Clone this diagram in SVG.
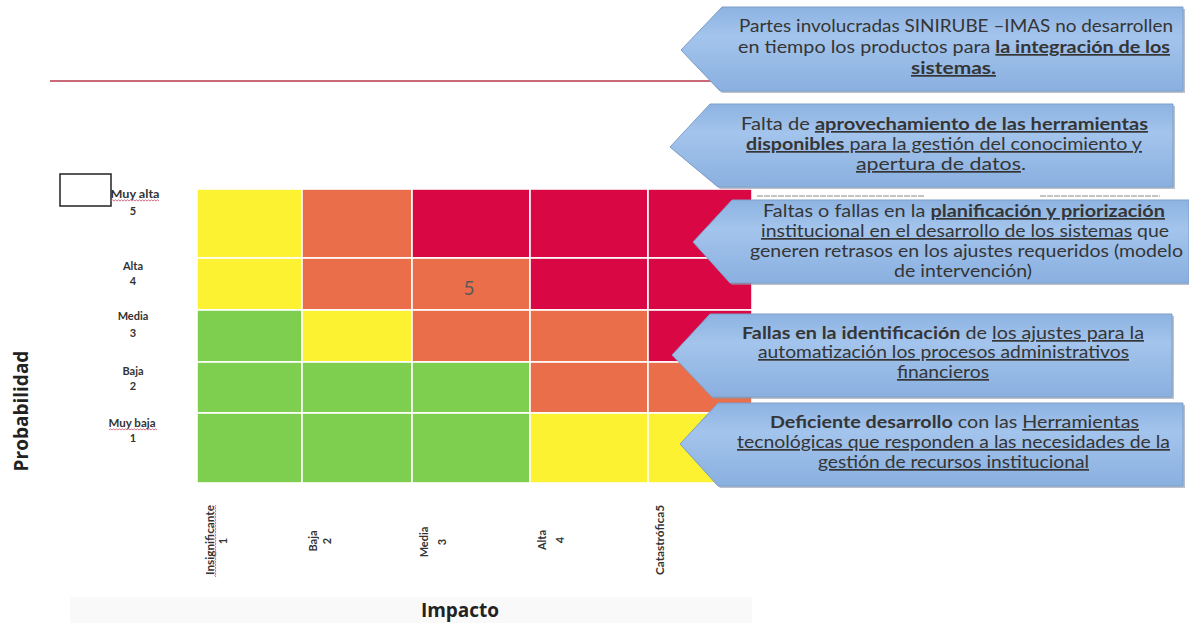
<svg xmlns="http://www.w3.org/2000/svg" width="1189" height="626" viewBox="0 0 1189 626">
<defs>
<linearGradient id="cg" x1="0" y1="0" x2="0" y2="1">
<stop offset="0" stop-color="#8DB3E2"/>
<stop offset="0.35" stop-color="#A3C4EC"/>
<stop offset="1" stop-color="#8AB0E0"/>
</linearGradient>
<style>
.cell{stroke:#ffffff;stroke-width:1.6}
.Y{fill:#FCF232}.O{fill:#EB6E4A}.R{fill:#D90845}.G{fill:#7ECE4F}
.co{fill:url(#cg);stroke:#7E9EC8;stroke-width:1}
.sh{fill:#8C97A6;opacity:0.6}
.ct{font-family:Lato,"Liberation Sans",sans-serif;font-size:17px;fill:#353535;text-anchor:start}
.b{font-weight:bold}
.u{text-decoration:underline}
.lab{font-family:Lato,"Liberation Sans",sans-serif;font-size:11px;font-weight:bold;fill:#333;text-anchor:middle}
.ax{font-family:"Open Sans","Liberation Sans",sans-serif;font-size:19px;font-weight:bold;fill:#222;text-anchor:middle}
.wave{fill:none;stroke:#D0607A;stroke-width:0.9}
</style>
</defs>
<rect x="0" y="0" width="1189" height="626" fill="#ffffff"/>
<rect x="70" y="597" width="682" height="26" fill="#F9F9F9"/>

<g id="matrix">
<rect class="cell Y" x="197" y="189" width="105" height="69"/>
<rect class="cell O" x="302" y="189" width="110" height="69"/>
<rect class="cell R" x="412" y="189" width="118" height="69"/>
<rect class="cell R" x="530" y="189" width="118" height="69"/>
<rect class="cell R" x="648" y="189" width="104" height="69"/>
<rect class="cell Y" x="197" y="258" width="105" height="52"/>
<rect class="cell O" x="302" y="258" width="110" height="52"/>
<rect class="cell O" x="412" y="258" width="118" height="52"/>
<rect class="cell R" x="530" y="258" width="118" height="52"/>
<rect class="cell R" x="648" y="258" width="104" height="52"/>
<rect class="cell G" x="197" y="310" width="105" height="52"/>
<rect class="cell Y" x="302" y="310" width="110" height="52"/>
<rect class="cell O" x="412" y="310" width="118" height="52"/>
<rect class="cell O" x="530" y="310" width="118" height="52"/>
<rect class="cell R" x="648" y="310" width="104" height="52"/>
<rect class="cell G" x="197" y="362" width="105" height="51"/>
<rect class="cell G" x="302" y="362" width="110" height="51"/>
<rect class="cell G" x="412" y="362" width="118" height="51"/>
<rect class="cell O" x="530" y="362" width="118" height="51"/>
<rect class="cell O" x="648" y="362" width="104" height="51"/>
<rect class="cell G" x="197" y="413" width="105" height="70"/>
<rect class="cell G" x="302" y="413" width="110" height="70"/>
<rect class="cell G" x="412" y="413" width="118" height="70"/>
<rect class="cell Y" x="530" y="413" width="118" height="70"/>
<rect class="cell Y" x="648" y="413" width="104" height="70"/>
<text x="469" y="295" font-family="Lato,'Liberation Sans',sans-serif" font-size="19" fill="#5A5A5A" text-anchor="middle">5</text>
</g>

<g id="connectors">
<line x1="50" y1="81" x2="712" y2="81" stroke="#B8374A" stroke-width="1.6"/>
</g>

<g id="marker-box">
<rect x="60" y="174" width="51" height="32" fill="#ffffff" stroke="#222" stroke-width="1.5"/>
</g>

<g id="row-labels">
<text class="lab" x="135" y="198" textLength="49" lengthAdjust="spacingAndGlyphs">Muy alta</text>
<path class="wave" d="M111 201 l1.5 -1.2 l1.5 1.2 l1.5 -1.2 l1.5 1.2 l1.5 -1.2 l1.5 1.2 l1.5 -1.2 l1.5 1.2 l1.5 -1.2 l1.5 1.2 l1.5 -1.2 l1.5 1.2 l1.5 -1.2 l1.5 1.2 l1.5 -1.2 l1.5 1.2 l1.5 -1.2 l1.5 1.2 l1.5 -1.2 l1.5 1.2 l1.5 -1.2 l1.5 1.2 l1.5 -1.2 l1.5 1.2 l1.5 -1.2 l1.5 1.2 l1.5 -1.2 l1.5 1.2 l1.5 -1.2 l1.5 1.2 l1.5 -1.2 l1.5 1.2"/>
<text class="lab" x="133" y="215">5</text>
<text class="lab" x="133" y="270">Alta</text>
<text class="lab" x="133" y="285">4</text>
<text class="lab" x="133" y="320">Media</text>
<text class="lab" x="133" y="337">3</text>
<text class="lab" x="133" y="375">Baja</text>
<text class="lab" x="133" y="390">2</text>
<text class="lab" x="132" y="427" textLength="47" lengthAdjust="spacingAndGlyphs">Muy baja</text>
<path class="wave" d="M109 430 l1.5 -1.2 l1.5 1.2 l1.5 -1.2 l1.5 1.2 l1.5 -1.2 l1.5 1.2 l1.5 -1.2 l1.5 1.2 l1.5 -1.2 l1.5 1.2 l1.5 -1.2 l1.5 1.2 l1.5 -1.2 l1.5 1.2 l1.5 -1.2 l1.5 1.2 l1.5 -1.2 l1.5 1.2 l1.5 -1.2 l1.5 1.2 l1.5 -1.2 l1.5 1.2 l1.5 -1.2 l1.5 1.2 l1.5 -1.2 l1.5 1.2 l1.5 -1.2 l1.5 1.2 l1.5 -1.2 l1.5 1.2 l1.5 -1.2 l1.5 1.2"/>
<text class="lab" x="133" y="442">1</text>
<text class="ax" transform="translate(28 411) rotate(-90)">Probabilidad</text>
</g>

<g id="col-labels">
<text class="lab" transform="translate(214 540) rotate(-90)" textLength="70" lengthAdjust="spacingAndGlyphs">Insignificante</text>
<path class="wave" d="M216 505 l-1.2 1.5 l1.2 1.5 l-1.2 1.5 l1.2 1.5 l-1.2 1.5 l1.2 1.5 l-1.2 1.5 l1.2 1.5 l-1.2 1.5 l1.2 1.5 l-1.2 1.5 l1.2 1.5 l-1.2 1.5 l1.2 1.5 l-1.2 1.5 l1.2 1.5 l-1.2 1.5 l1.2 1.5 l-1.2 1.5 l1.2 1.5 l-1.2 1.5 l1.2 1.5 l-1.2 1.5 l1.2 1.5 l-1.2 1.5 l1.2 1.5 l-1.2 1.5 l1.2 1.5 l-1.2 1.5 l1.2 1.5 l-1.2 1.5 l1.2 1.5 l-1.2 1.5 l1.2 1.5 l-1.2 1.5 l1.2 1.5 l-1.2 1.5 l1.2 1.5 l-1.2 1.5 l1.2 1.5 l-1.2 1.5 l1.2 1.5 l-1.2 1.5 l1.2 1.5 l-1.2 1.5 l1.2 1.5 l-1.2 1.5 l1.2 1.5"/>
<text class="lab" transform="translate(227 541) rotate(-90)">1</text>
<text class="lab" transform="translate(317 541) rotate(-90)">Baja</text>
<text class="lab" transform="translate(331 541) rotate(-90)">2</text>
<text class="lab" transform="translate(428 542) rotate(-90)">Media</text>
<text class="lab" transform="translate(446 542) rotate(-90)">3</text>
<text class="lab" transform="translate(546 540) rotate(-90)">Alta</text>
<text class="lab" transform="translate(564 540) rotate(-90)">4</text>
<text class="lab" transform="translate(664 540) rotate(-90)" textLength="70" lengthAdjust="spacingAndGlyphs">Catastrófica5</text>
<text class="ax" x="460" y="617">Impacto</text>
</g>

<g id="callout-1">
<polygon class="sh" points="724,9 1185,9 1185,93 722,93 683,52"/>
<polygon class="co" points="722,7 1183,7 1183,91 720,91 681,50"/>
<text class="ct" x="739" y="32" textLength="434" lengthAdjust="spacingAndGlyphs">Partes involucradas SINIRUBE –IMAS no desarrollen</text>
<text class="ct" x="738" y="53" textLength="432" lengthAdjust="spacingAndGlyphs">en tiempo los productos para <tspan class="b u">la integración de los</tspan></text>
<text class="ct b u" x="911" y="74" textLength="85" lengthAdjust="spacingAndGlyphs">sistemas.</text>
</g>

<g id="callout-2">
<polygon class="sh" points="712,106 1175,106 1175,189 720,189 672,149"/>
<polygon class="co" points="710,104 1173,104 1173,187 718,187 670,147"/>
<text class="ct" x="741" y="130" textLength="407" lengthAdjust="spacingAndGlyphs">Falta de <tspan class="b u">aprovechamiento de las herramientas</tspan></text>
<text class="ct" x="746" y="150" textLength="396" lengthAdjust="spacingAndGlyphs"><tspan class="b u">disponibles</tspan><tspan class="u"> para la gestión del conocimiento y</tspan></text>
<text class="ct" x="856" y="170" textLength="170" lengthAdjust="spacingAndGlyphs"><tspan class="u">apertura de datos</tspan>.</text>
</g>

<g id="callout-3">
<line x1="757" y1="196" x2="925" y2="196" stroke="#888" stroke-width="1" stroke-dasharray="6 1"/>
<line x1="1040" y1="196" x2="1160" y2="196" stroke="#888" stroke-width="1" stroke-dasharray="6 1"/>
<polygon class="sh" points="734,202 1189,202 1189,285 732,285 695,244"/>
<polygon class="co" points="732,200 1189,200 1189,283 730,283 693,242"/>
<text class="ct" x="763" y="217" textLength="402" lengthAdjust="spacingAndGlyphs">Faltas o fallas en la <tspan class="b u">planificación y priorización</tspan></text>
<text class="ct" x="761" y="237" textLength="408" lengthAdjust="spacingAndGlyphs"><tspan class="u">institucional en el desarrollo de los sistemas</tspan> que</text>
<text class="ct" x="750" y="257" textLength="433" lengthAdjust="spacingAndGlyphs">generen retrasos en los ajustes requeridos (modelo</text>
<text class="ct" x="894" y="277" textLength="138" lengthAdjust="spacingAndGlyphs">de intervención)</text>
</g>

<g id="callout-4">
<polygon class="sh" points="712,316 1174,316 1174,399 714,399 674,357"/>
<polygon class="co" points="710,314 1172,314 1172,397 712,397 672,355"/>
<text class="ct" x="742" y="339" textLength="402" lengthAdjust="spacingAndGlyphs"><tspan class="b">Fallas en la identificación</tspan> de <tspan class="u">los ajustes para la</tspan></text>
<text class="ct u" x="758" y="358" textLength="371" lengthAdjust="spacingAndGlyphs">automatización los procesos administrativos</text>
<text class="ct u" x="897" y="378" textLength="92" lengthAdjust="spacingAndGlyphs">financieros</text>
</g>

<g id="callout-5">
<polygon class="sh" points="720,405 1185,405 1185,488 720,488 682,446"/>
<polygon class="co" points="718,403 1183,403 1183,486 718,486 680,444"/>
<text class="ct" x="770" y="428" textLength="369" lengthAdjust="spacingAndGlyphs"><tspan class="b">Deficiente desarrollo</tspan> con las <tspan class="u">Herramientas</tspan></text>
<text class="ct u" x="737" y="448" textLength="433" lengthAdjust="spacingAndGlyphs">tecnológicas que responden a las necesidades de la</text>
<text class="ct u" x="818" y="468" textLength="271" lengthAdjust="spacingAndGlyphs">gestión de recursos institucional</text>
</g>
</svg>
